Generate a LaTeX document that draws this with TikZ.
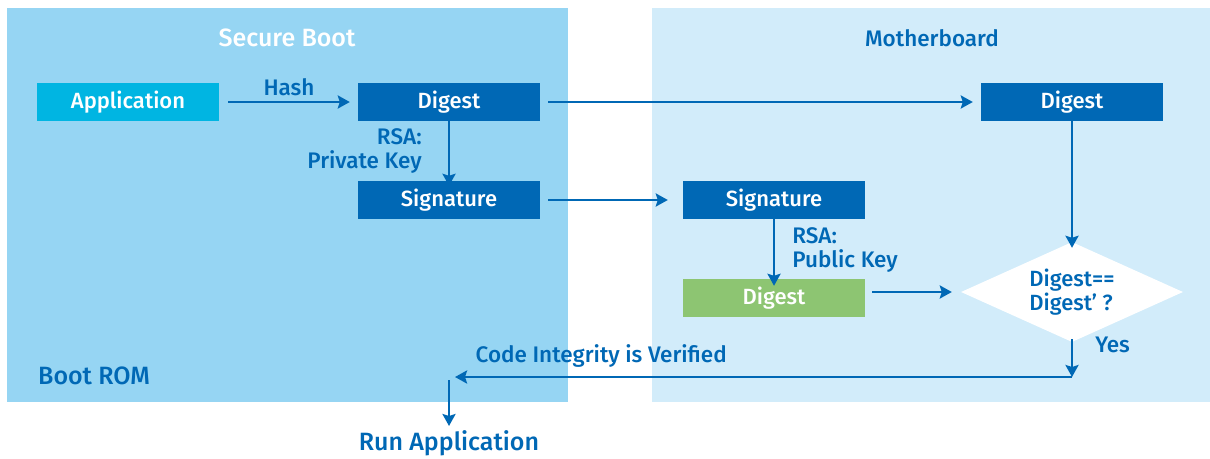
\documentclass[tikz,border=0pt]{standalone}
\usepackage{fontspec}
\setmainfont{Fira Sans}
\newfontfamily\medfont{Fira Sans Medium}
\usetikzlibrary{arrows.meta,shapes.geometric}
\definecolor{panelA}{RGB}{150,213,243}
\definecolor{panelB}{RGB}{210,236,250}
\definecolor{deepblue}{RGB}{0,104,181}
\definecolor{cyanbox}{RGB}{0,181,226}
\definecolor{greenbox}{RGB}{141,197,114}
\tikzset{
  box/.style={rectangle, inner sep=0pt, minimum width=182pt, minimum height=38pt,
    text=white, font=\medfont\fontsize{22}{24}\selectfont},
  lbl/.style={text=deepblue, font=\medfont\fontsize{22.5}{24}\selectfont, inner sep=0pt},
  big/.style={font=\medfont\fontsize{25}{26}\selectfont},
  flow/.style={draw=deepblue, line width=2.6pt,
    -{Stealth[length=12pt,width=13pt,inset=2pt]}}
}
\begin{document}
\begin{tikzpicture}[x=1pt,y=-1pt]
\useasboundingbox (0,0) rectangle (1210,458);
\fill[white] (0,0) rectangle (1210,458);
% panels
\fill[panelA] (7,8) rectangle (568,402);
\fill[panelB] (652,8) rectangle (1210,402);
\node[lbl, big, text=white] (sb) at (287,38) {Secure Boot};
\node[lbl] (mb) at (932,38) {Motherboard};
\node[lbl, big, anchor=west] (rom) at (38,376) {Boot ROM};
% boxes
\node[box, fill=cyanbox] (app) at (128,102) {Application};
\node[box, fill=deepblue] (dg1) at (449,102) {Digest};
\node[box, fill=deepblue] (sg1) at (449,200) {Signature};
\node[box, fill=deepblue] (dg2) at (1072,102) {Digest};
\node[box, fill=deepblue] (sg2) at (774,200) {Signature};
\node[box, fill=greenbox] (dg3) at (774,298) {Digest};
\node[diamond, fill=white, minimum width=222pt, minimum height=100pt, aspect=2.2,
  inner sep=0pt, text=deepblue, font=\medfont\fontsize{22}{24}\selectfont, align=left] (cmp) at (1072,292) {Digest==\\Digest’ ?};
% connectors
\draw[flow] ([xshift=9pt]app.east) -- node[lbl, above=5pt] {Hash} ([xshift=-8pt]dg1.west);
\draw[flow] ([xshift=8pt]dg1.east) -- ([xshift=-8pt]dg2.west);
\draw[flow] ([yshift=5pt]dg1.south) -- node[lbl, left=26pt, align=right] {RSA:\\Private Key} ([yshift=-5pt]sg1.north);
\draw[flow] ([yshift=5pt]sg2.south) -- node[lbl, right=17pt, align=left] {RSA:\\Public Key} ([yshift=-7pt]dg3.north);
\draw[flow] ([xshift=8pt]sg1.east) -- ([xshift=-15pt]sg2.west);
\draw[flow] ([yshift=5pt]dg2.south) -- ([yshift=-6pt]cmp.north);
\draw[flow] ([xshift=7pt]dg3.east |- cmp.west) -- ([xshift=-9pt]cmp.west);
\coordinate (turn) at (1072,377);
\coordinate (back) at (455,377);
\coordinate (drop) at (449,380);
\coordinate (run) at (449,426);
\draw[flow] ([yshift=3pt]cmp.south) -- node[lbl, right=22pt, pos=0.15] {Yes} (turn);
\draw[flow] (turn) -- node[lbl, above=8pt, pos=0.763] {Code Integrity is Verified} (back);
\draw[flow] (drop) -- (run);
\node[lbl, big] (runapp) at (449,443) {Run Application};
\end{tikzpicture}
\end{document}
